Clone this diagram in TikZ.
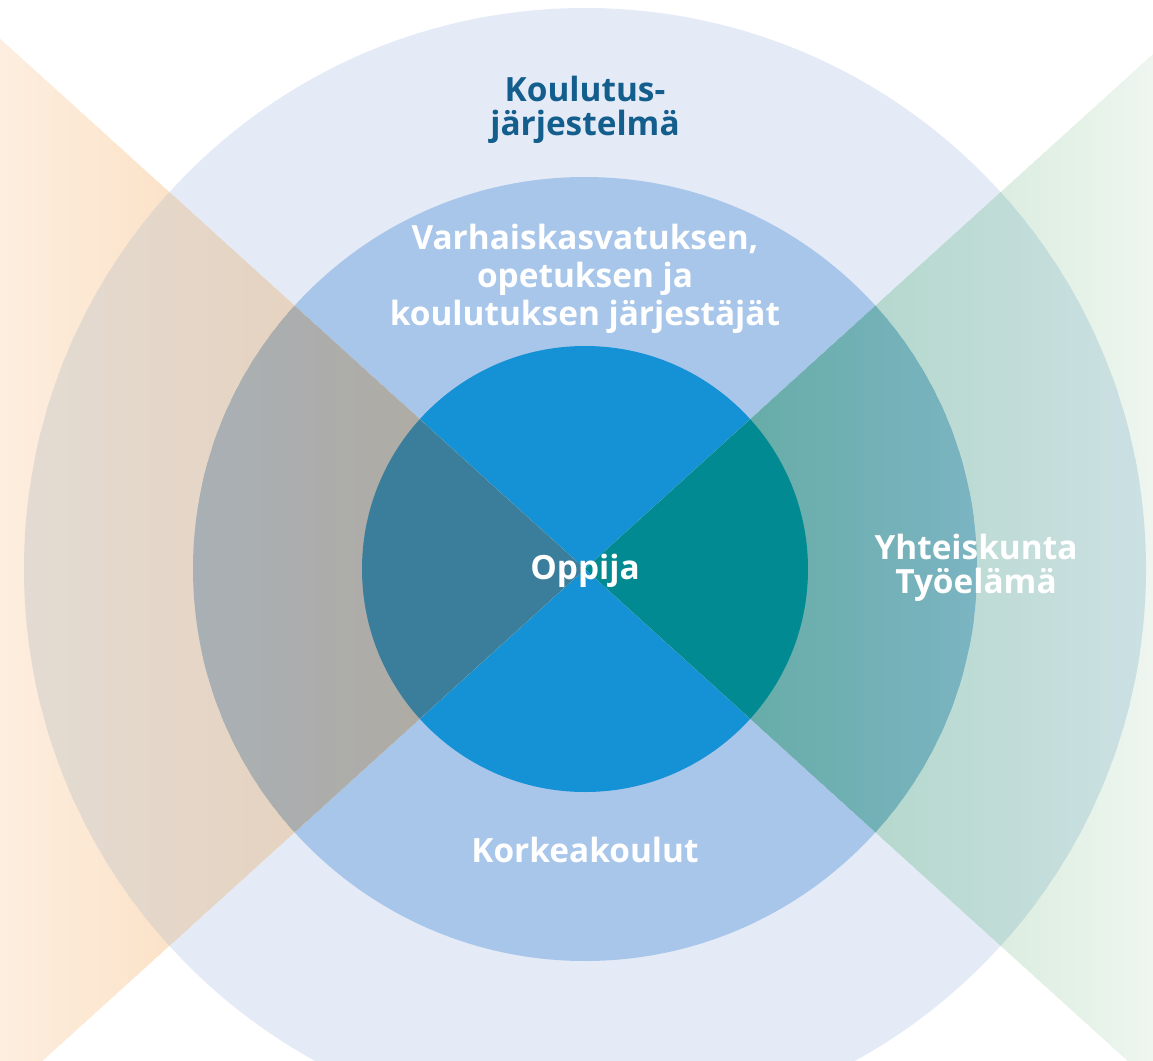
\documentclass[tikz,border=0pt]{standalone}
\usepackage{fontspec}
\setmainfont{Open Sans}
\definecolor{ringout}{HTML}{E4EBF7}
\definecolor{ringmid}{HTML}{A8C6EA}
\definecolor{ringin}{HTML}{1591D5}
\definecolor{sysblue}{HTML}{135E8D}
\definecolor{peachA}{HTML}{FDEEDF}
\definecolor{peachB}{HTML}{FBE2C7}
\definecolor{peachoutA}{HTML}{E3DBD3}
\definecolor{peachoutB}{HTML}{E6D3C0}
\definecolor{peachmidA}{HTML}{A8B0B5}
\definecolor{peachmidB}{HTML}{AFABA4}
\definecolor{peachin}{HTML}{3B7E9B}
\definecolor{mintA}{HTML}{DAECDF}
\definecolor{mintB}{HTML}{EEF6EF}
\definecolor{mintoutA}{HTML}{B5D8CD}
\definecolor{mintoutB}{HTML}{CCE0E3}
\definecolor{mintmidA}{HTML}{68ADA8}
\definecolor{mintmidB}{HTML}{7BB4C2}
\definecolor{mintin}{HTML}{018A91}
% vertical strips from x=#1 to x=#2, colour #3 on the left to #4 on the right
\newcommand{\stripfill}[4]{%
    \foreach \k in {0,...,23} {
        \pgfmathsetmacro{\xa}{#1+(#2-#1)*\k/24}
        \pgfmathsetmacro{\xb}{#1+(#2-#1)*(\k+1.6)/24}
        \pgfmathsetmacro{\mixp}{100*(\k+0.5)/24}
        \fill[#4!\mixp!#3] (\xa,0) rectangle (\xb,1061);
    }}
\begin{document}
\begin{tikzpicture}[x=0.02cm, y=-0.02cm,
            ringtext/.style = {align=center, text=white, inner sep=0pt,
                font=\bfseries\fontsize{19}{21.5}\selectfont},
            systext/.style = {ringtext, text=sysblue,
                font=\bfseries\fontsize{19}{19.5}\selectfont}]
    \useasboundingbox (0,0) rectangle (1153,1061);
    \clip (0,0) rectangle (1153,1061);
    \coordinate (c) at (585,569);
    \fill[ringout] (c) circle [radius=561];
    \fill[ringmid] (c) circle [radius=392];
    \fill[ringin] (c) circle [radius=223];
    \begin{scope}
        \clip (c) -- (-120,-70) -- (-120,1208) -- cycle;
        \stripfill{0}{180}{peachA}{peachB}
        \fill[peachB] (180,0) rectangle (585,1061);
        \begin{scope}
            \clip (c) circle [radius=561];
            \stripfill{23}{300}{peachoutA}{peachoutB}
        \end{scope}
        \begin{scope}
            \clip (c) circle [radius=392];
            \stripfill{193}{420}{peachmidA}{peachmidB}
        \end{scope}
        \fill[peachin] (c) circle [radius=223];
    \end{scope}
    \begin{scope}
        \clip (c) -- (1290,-70) -- (1290,1208) -- cycle;
        \fill[mintA] (585,0) rectangle (985,1061);
        \stripfill{985}{1153}{mintA}{mintB}
        \begin{scope}
            \clip (c) circle [radius=561];
            \stripfill{870}{1146}{mintoutA}{mintoutB}
        \end{scope}
        \begin{scope}
            \clip (c) circle [radius=392];
            \stripfill{750}{978}{mintmidA}{mintmidB}
        \end{scope}
        \fill[mintin] (c) circle [radius=223];
    \end{scope}
    \node[systext] (system) at (585,110) {Koulutus-\\järjestelmä};
    \node[ringtext] (providers) at (585,279) {Varhaiskasvatuksen,\\opetuksen ja\\koulutuksen järjestäjät};
    \node[ringtext] (learner) at (585,571) {Oppija};
    \node[ringtext, font=\bfseries\fontsize{19}{19.5}\selectfont] (society) at (976,568) {Yhteiskunta\\Työelämä};
    \node[ringtext] (universities) at (585,850) {Korkeakoulut};
\end{tikzpicture}
\end{document}
